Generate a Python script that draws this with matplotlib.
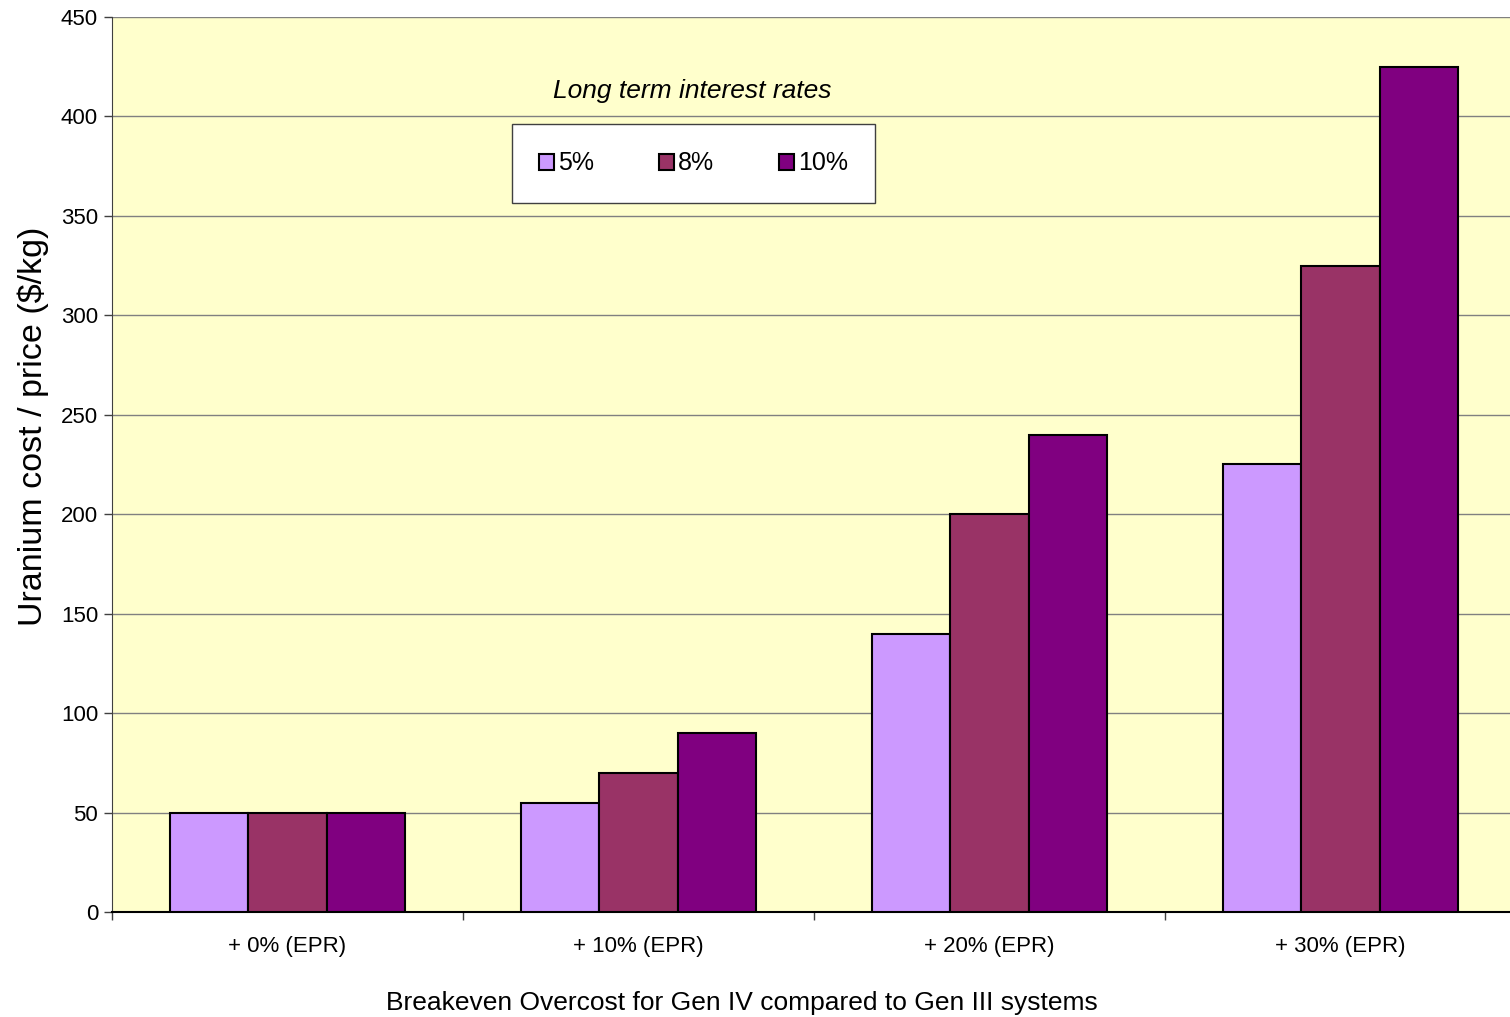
import matplotlib
matplotlib.use("Agg")
import matplotlib.pyplot as plt
import numpy as np

categories = ["+ 0% (EPR)", "+ 10% (EPR)", "+ 20% (EPR)", "+ 30% (EPR)"]
series_names = ["5%", "8%", "10%"]
rate_5 = [50, 55, 140, 225]
rate_8 = [50, 70, 200, 325]
rate_10 = [50, 90, 240, 425]
colors = ["#CC99FF", "#993366", "#800080"]

plt.rcParams["font.family"] = ["Liberation Sans", "DejaVu Sans"]

W, H = 1510, 1017
fig = plt.figure(figsize=(W / 100, H / 100), dpi=100)
ax = fig.add_axes([112 / W, (H - 912) / H, 1404 / W, 895 / H])
ax.set_facecolor("#FFFFCC")

x = np.arange(len(categories))
bw = 0.2225
for i, (vals, name, c) in enumerate(zip([rate_5, rate_8, rate_10], series_names, colors)):
    ax.bar(x + (i - 1) * bw, vals, width=bw, color=c, edgecolor="black",
           linewidth=1.5, label=name, zorder=3)

ax.set_xlim(-0.5, 3.5)
ax.set_ylim(0, 450)
ax.set_yticks(np.arange(0, 451, 50))
ax.yaxis.grid(True, color="#808080", linewidth=1, zorder=0)
ax.set_axisbelow(True)

ax.set_xticks(x)
ax.set_xticklabels(categories, fontsize=16)
ax.set_xticks(np.arange(-0.5, 4, 1), minor=True)
ax.tick_params(axis="x", which="major", length=0, pad=17)
ax.tick_params(axis="x", which="minor", length=6, width=1, color="#404040")
ax.tick_params(axis="y", length=6, width=1, color="#404040", labelsize=16, pad=4)

for s in ["top", "right"]:
    ax.spines[s].set_visible(False)
ax.spines["left"].set_color("#404040")
ax.spines["bottom"].set_color("black")
ax.spines["bottom"].set_linewidth(1.5)

# Axis titles sit over the visible part of the chart area
fig.text(33 / W, 1 - 426 / H, "Uranium cost / price ($/kg)", fontsize=24.5,
         rotation=90, ha="center", va="center")
fig.text(742 / W, 1 - 1003 / H, "Breakeven Overcost for Gen IV compared to Gen III systems",
         fontsize=19, ha="center", va="center")

fig.text(692 / W, 1 - 91 / H, "Long term interest rates", fontsize=19, style="italic",
         ha="center", va="center")

leg = ax.legend(loc="center", bbox_to_anchor=(693.5 / W, 1 - 163.5 / H),
                bbox_transform=fig.transFigure, ncol=3, fontsize=18,
                frameon=True, fancybox=False, edgecolor="#404040",
                handlelength=0.6, handleheight=0.6, handletextpad=0.15,
                columnspacing=2.6, borderpad=1.1)
leg.get_frame().set_linewidth(1)
leg.get_frame().set_facecolor("white")
leg.get_frame().set_alpha(1)

fig.savefig("out.png", dpi=100)
